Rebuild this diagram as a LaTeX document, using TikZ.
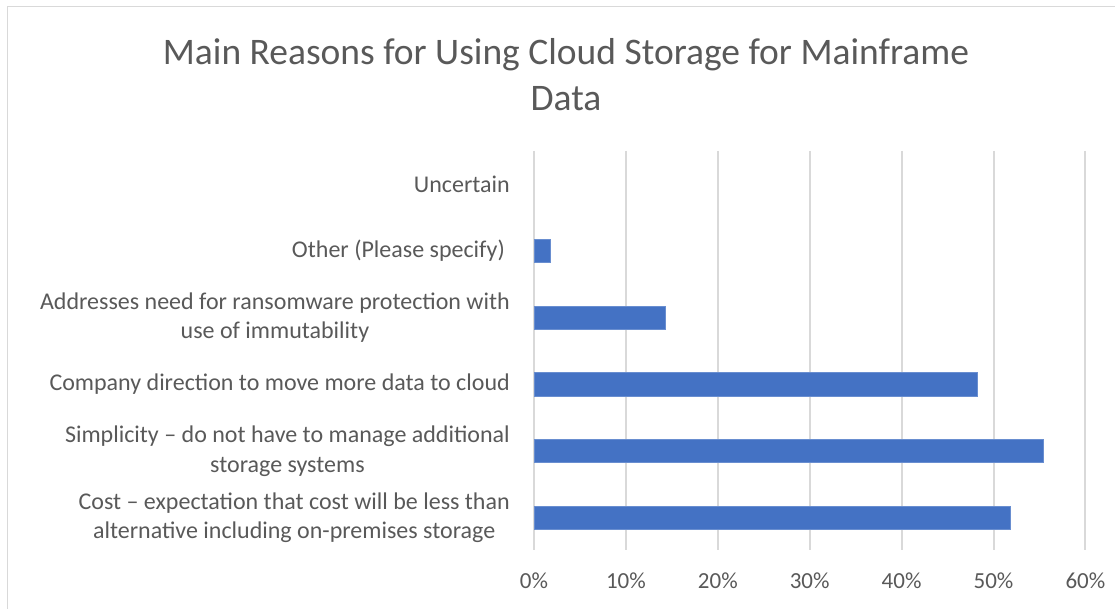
\documentclass[tikz,border=0pt]{standalone}
\usepackage{fontspec}
\setmainfont{Carlito}
\definecolor{txt}{HTML}{595959}
\definecolor{grid}{HTML}{D9D9D9}
\definecolor{bar}{HTML}{4472C4}
\begin{document}
\begin{tikzpicture}[x=1pt,y=-1pt,
  lbl/.style={anchor=east,align=center,text=txt,font=\fontsize{24}{29.5}\selectfont,inner sep=0pt},
  tick/.style={anchor=center,text=txt,font=\fontsize{23}{26}\selectfont,inner sep=0pt},
  gridline/.style={draw=grid,line width=2pt},
  barbox/.style={fill=bar,draw=bar!80!white,line width=0.6pt}]
\useasboundingbox (0,0) rectangle (1115,609);
\draw[draw=grid,line width=1.5pt] (7.5,620) -- (7.5,6.5) -- (1125,6.5);
% title
\node[text=txt,align=center,font=\fontsize{37.5}{46}\selectfont,inner sep=0pt] (title) at (566,75) {Main Reasons for Using Cloud Storage for Mainframe\\Data};
% grid
\foreach \i/\p in {0/0\%,1/10\%,2/20\%,3/30\%,4/40\%,5/50\%,6/60\%}{
  \draw[gridline] (534+91.9*\i,151) -- (534+91.9*\i,550);
  \node[tick] (t\i) at (534+91.9*\i,581) {\p};
}
% bars
\path[barbox] (534,239.3) rectangle (550,262.7);
\path[barbox] (534,306) rectangle (665,329.3);
\path[barbox] (534,372.7) rectangle (977.7,396);
\path[barbox] (534,439.3) rectangle (1043.3,462.7);
\path[barbox] (534,506) rectangle (1010.3,529.3);
% labels
\node[lbl] (l1) at (510,184) {Uncertain};
\node[lbl] (l2) at (505,251) {Other (Please specify)};
\node[lbl] (l3) at (510,317.5) {Addresses need for ransomware protection with\\use of immutability};
\node[lbl] (l4) at (510,384) {Company direction to move more data to cloud};
\node[lbl] (l5) at (510,451) {Simplicity – do not have to manage additional\\storage systems};
\node[lbl] (l6) at (510,517.5) {Cost – expectation that cost will be less than\\alternative including on-premises storage};
\end{tikzpicture}
\end{document}
